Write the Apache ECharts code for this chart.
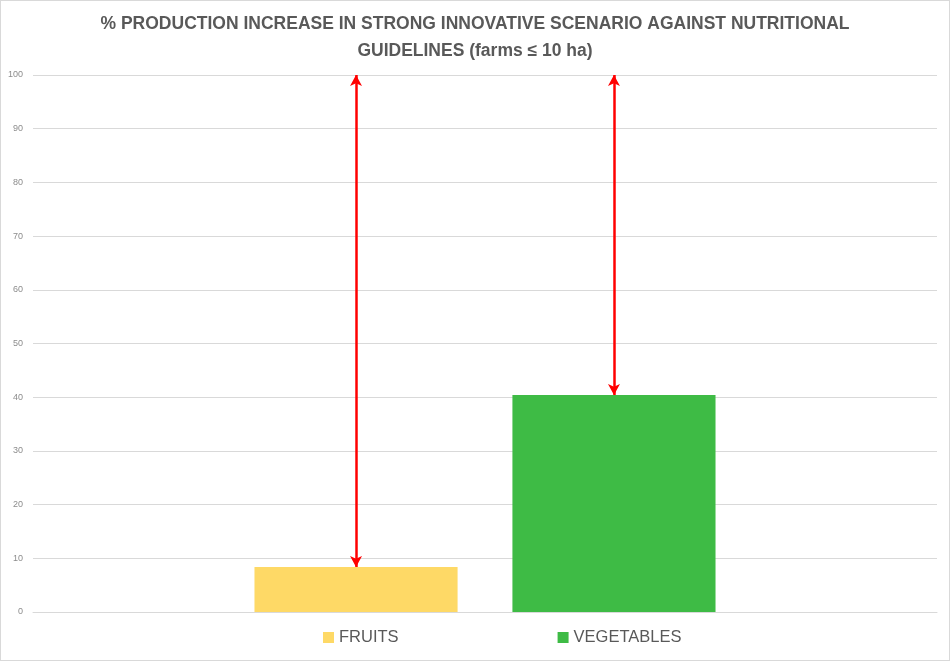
<!DOCTYPE html>
<html>
<head>
<meta charset="utf-8">
<script src="https://cdn.jsdelivr.net/npm/echarts@6/dist/echarts.min.js"></script>
<style>
  html, body { margin: 0; padding: 0; background: #fff; }
  #chart { width: 950px; height: 661px; box-sizing: border-box; border: 1px solid #d9d9d9; }
</style>
</head>
<body>
<div id="chart"></div>
<script>
// data
var categories = [''];
var seriesNames = ['FRUITS', 'VEGETABLES'];
var fruits = [8.4];
var vegetables = [40.4];
var target = 100; // nutritional guideline level
var yTicks = { min: 0, max: 100, interval: 10 };

var font = '"Liberation Sans", Arial, sans-serif';

// red double-headed arrow from bar top up to the guideline
function gapArrow(value) {
  return {
    silent: true,
    symbol: ['arrow', 'arrow'],
    symbolSize: [9, 11],
    label: { show: false },
    lineStyle: { color: '#ff0000', width: 2.5, type: 'solid' },
    data: [[{ coord: [0, value] }, { coord: [0, target] }]]
  };
}

var myChart = echarts.init(document.getElementById('chart'));
myChart.setOption({
  animation: false,
  title: {
    text: '% PRODUCTION INCREASE IN STRONG INNOVATIVE SCENARIO AGAINST NUTRITIONAL\nGUIDELINES (farms ≤ 10 ha)',
    left: 'center',
    top: 5,
    textStyle: { fontFamily: font, fontSize: 17.5, fontWeight: 'bold', color: '#595959', lineHeight: 27 }
  },
  legend: {
    left: 317,
    top: 623,
    itemWidth: 11,
    itemHeight: 11,
    itemGap: 159,
    icon: 'rect',
    textStyle: { fontFamily: font, fontSize: 16.5, color: '#595959' },
    data: seriesNames
  },
  grid: { left: 32, right: 12, top: 74, bottom: 48, containLabel: false, outerBoundsMode: 'none' },
  xAxis: {
    type: 'category',
    data: categories,
    axisLine: { lineStyle: { color: '#d9d9d9', width: 1 } },
    axisTick: { show: false },
    axisLabel: { show: false }
  },
  yAxis: {
    type: 'value',
    min: yTicks.min,
    max: yTicks.max,
    interval: yTicks.interval,
    axisLine: { show: false },
    axisTick: { show: false },
    axisLabel: { margin: 10, fontFamily: font, fontSize: 9, color: '#8c8c8c' },
    splitLine: { lineStyle: { color: '#d9d9d9', width: 1 } }
  },
  series: [
    {
      name: seriesNames[0],
      type: 'bar',
      data: fruits,
      barGap: '27%',
      barCategoryGap: '49%',
      itemStyle: { color: '#fed966' },
      markLine: gapArrow(fruits[0])
    },
    {
      name: seriesNames[1],
      type: 'bar',
      data: vegetables,
      itemStyle: { color: '#3ebb45' },
      markLine: gapArrow(vegetables[0])
    }
  ]
});
</script>
</body>
</html>
